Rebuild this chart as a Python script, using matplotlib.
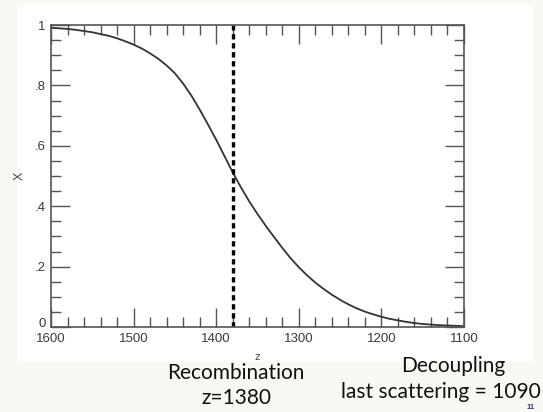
import matplotlib
matplotlib.use("Agg")
import matplotlib.pyplot as plt
import matplotlib.transforms as mtransforms
from matplotlib.patches import Rectangle
from matplotlib.ticker import MultipleLocator, FixedLocator

# Data (ionized fraction X vs redshift z)
z_vals = [1600, 1590, 1580, 1570, 1560, 1550, 1540, 1530, 1520, 1510,
          1500, 1490, 1480, 1470, 1460, 1450, 1440, 1430, 1420, 1410,
          1400, 1390, 1380, 1370, 1360, 1350, 1340, 1330, 1320, 1310,
          1300, 1290, 1280, 1270, 1260, 1250, 1240, 1230, 1220, 1210,
          1200, 1190, 1180, 1170, 1160, 1150, 1140, 1130, 1120, 1110, 1100]
x_vals = [0.991, 0.989, 0.987, 0.984, 0.980, 0.976, 0.970, 0.964, 0.956, 0.946,
          0.935, 0.922, 0.906, 0.888, 0.866, 0.840, 0.806, 0.766, 0.720, 0.671,
          0.620, 0.566, 0.512, 0.462, 0.416, 0.374, 0.335, 0.298, 0.262, 0.228,
          0.198, 0.171, 0.147, 0.126, 0.107, 0.090, 0.075, 0.062, 0.051, 0.042,
          0.034, 0.027, 0.022, 0.017, 0.013, 0.010, 0.008, 0.006, 0.005, 0.004, 0.003]
recomb_z = 1380
x_ticks = [1600, 1500, 1400, 1300, 1200, 1100]
y_ticks = [0, 0.2, 0.4, 0.6, 0.8, 1.0]
y_tick_labels = ["0", ".2", ".4", ".6", ".8", "1"]

W, H = 543, 412
fig = plt.figure(figsize=(W / 100, H / 100), dpi=100)
fig.patch.set_facecolor("#f9f9f4")
fig.patches.append(Rectangle((18 / W, 1 - 362 / H), 515 / W, 357 / H,
                             transform=fig.transFigure, facecolor="white",
                             edgecolor="none", zorder=-5))

ax = fig.add_axes([51 / W, 1 - 327 / H, 413 / W, 302 / H])
ax.set_facecolor("white")
ax.plot(z_vals, x_vals, color="#333333", lw=1.3)
ax.axvline(recomb_z, color="black", lw=2.4, linestyle=(0, (1.6, 1.1)))

ax.set_xlim(1600, 1100)
ax.set_ylim(0, 1)
ax.xaxis.set_major_locator(FixedLocator(x_ticks))
ax.xaxis.set_minor_locator(MultipleLocator(20))
ax.yaxis.set_major_locator(FixedLocator(y_ticks))
ax.set_yticklabels(y_tick_labels)
ax.yaxis.set_minor_locator(MultipleLocator(0.05))
ax.tick_params(which="both", direction="in", top=True, right=True,
               color="#555555", width=1.0, labelsize=9.5, labelcolor="#3a3a3a",
               labelfontfamily="Liberation Sans")
ax.tick_params(which="major", length=14)
ax.tick_params(axis="x", which="major", pad=4.5)
ax.tick_params(axis="y", which="major", pad=4)
ax.tick_params(which="minor", length=7)
for s in ax.spines.values():
    s.set_color("#555555")
    s.set_linewidth(1.2)

# nudge the "0" label up a little so it clears "1600", as in the reference
lbl0 = ax.get_yticklabels()[0]
lbl0.set_transform(lbl0.get_transform() +
                   mtransforms.ScaledTranslation(0, 3 / 72, fig.dpi_scale_trans))

ax.set_xlabel("z", fontsize=8, color="#444444", family="Liberation Sans", labelpad=5)
ax.set_ylabel("X", fontsize=9, color="#444444", family="Liberation Sans", labelpad=6)

fs = 15
fig.text(236 / W, 1 - 373 / H, "Recombination", ha="center", va="center",
         fontsize=fs, family="Lato", color="#111111")
fig.text(236 / W, 1 - 398 / H, "z=1380", ha="center", va="center",
         fontsize=fs, family="Lato", color="#111111")
fig.text(453 / W, 1 - 366 / H, "Decoupling", ha="center", va="center",
         fontsize=fs, family="Lato", color="#111111")
fig.text(441 / W, 1 - 392 / H, "last scattering = 1090", ha="center", va="center",
         fontsize=fs, family="Lato", color="#111111")
fig.text(531 / W, 1 - 407.5 / H, "11", ha="center", va="center",
         fontsize=5.5, family="Liberation Sans", color="#2a3a7a", weight="bold")

fig.savefig("out.png", dpi=100, facecolor=fig.get_facecolor())
